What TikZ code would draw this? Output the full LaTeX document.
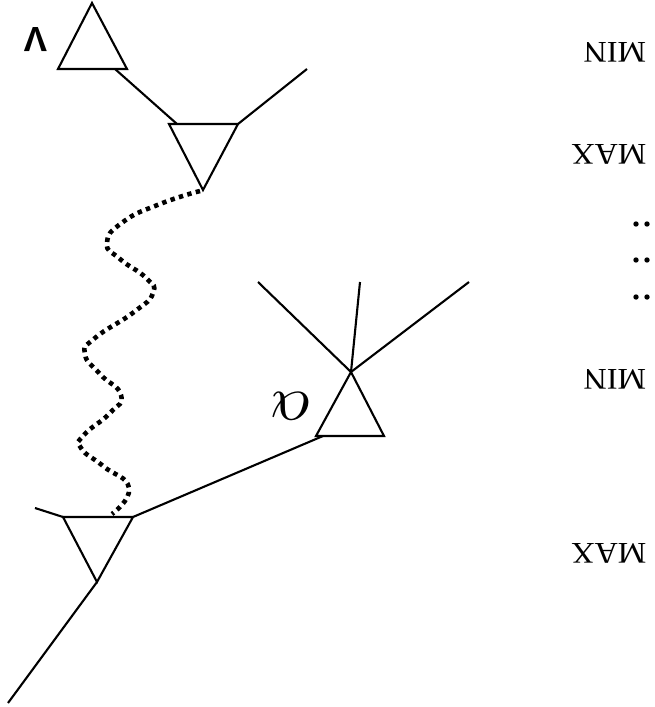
\documentclass[tikz,border=0pt]{standalone}
\usepackage{fontspec}
\setmainfont{Liberation Serif}
\newfontfamily\labsans{Liberation Sans}
\begin{document}
\begin{tikzpicture}[x=1pt,y=-1pt,
  edge/.style={line width=2.1pt,line join=miter},
  tri/.style={line width=2.1pt,line join=miter},
  wiggle/.style={line width=4.6pt,dash pattern=on 4.4pt off 4.4pt},
  level/.style={rotate=180,inner sep=0pt,font=\fontsize{30}{30}\selectfont,xscale=1.07},
  dotmark/.style={fill=black,draw=none}]
\useasboundingbox (0,0) rectangle (655,707);
% top triangle (apex up on page)
\coordinate (t1a) at (92,3);
\coordinate (t1l) at (58,69);
\coordinate (t1r) at (127,69);
\coordinate (t1c) at (115,69);
% second triangle (apex down)
\coordinate (t2l) at (169,124);
\coordinate (t2r) at (238,124);
\coordinate (t2a) at (203,190);
\coordinate (t2c) at (177,124);
\coordinate (t2e) at (307,69);
% bottom triangle (apex down)
\coordinate (t3l) at (63,517);
\coordinate (t3r) at (133,517);
\coordinate (t3a) at (97,582);
\coordinate (t3e) at (35,508);
\coordinate (t3f) at (8,703);
% MIN triangle (apex up)
\coordinate (t4l) at (316,436);
\coordinate (t4r) at (384,436);
\coordinate (t4a) at (351,372);
\coordinate (t4c) at (323,436);
\coordinate (t4x) at (258,282);
\coordinate (t4y) at (360,282);
\coordinate (t4z) at (469,282);

\draw[tri] (t1a) -- (t1l) -- (t1r) -- cycle;
\draw[tri] (t2l) -- (t2r) -- (t2a) -- cycle;
\draw[tri] (t3l) -- (t3r) -- (t3a) -- cycle;
\draw[tri] (t4a) -- (t4l) -- (t4r) -- cycle;

\draw[edge] (t1c) -- (t2c);
\draw[edge] (t2r) -- (t2e);
\draw[edge] (t3l) -- (t3e);
\draw[edge] (t3a) -- (t3f);
\draw[edge] (t3r) -- (t4c);
\draw[edge] (t4a) -- (t4x);
\draw[edge] (t4a) -- (t4y);
\draw[edge] (t4a) -- (t4z);

\draw[wiggle] plot[smooth,tension=0.9] coordinates {(200,191) (160,204) (123,222) (107,243) (120,259) (146,278) (153,293) (134,312) (95,338) (85,354) (100,374) (121,395) (110,413) (84,435) (81,448) (103,466) (129,488) (112,514)};

\node[rotate=180,inner sep=0pt,font=\labsans\bfseries\fontsize{35}{35}\selectfont] (vlab) at (36,40) {V};
\node[rotate=180,inner sep=0pt,scale=6.4] (alab) at (291,406) {$\alpha$};

\node[level] (min1) at (615,52) {MIN};
\node[level] (max1) at (609,154) {MAX};
\node[level] (min2) at (615,379) {MIN};
\node[level] (max2) at (609,553) {MAX};

\foreach \yy in {224,260,297}{
  \fill[dotmark] (636,\yy) circle (2.7);
  \fill[dotmark] (647,\yy) circle (2.7);
}
\end{tikzpicture}
\end{document}
